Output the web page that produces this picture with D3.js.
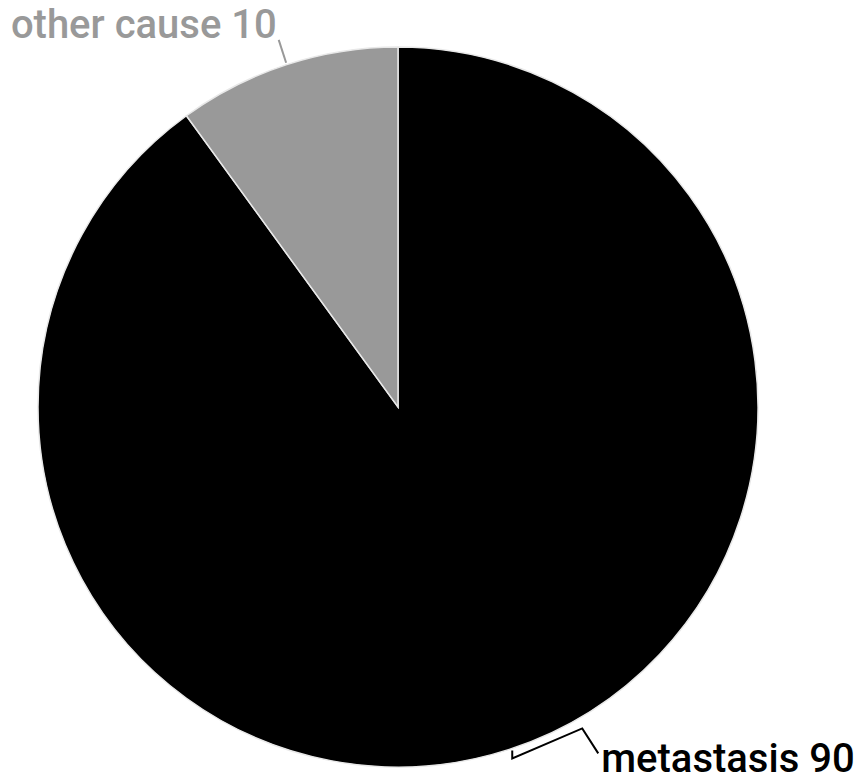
<!DOCTYPE html>
<html>
<head>
<meta charset="utf-8">
<script src="https://cdn.jsdelivr.net/npm/d3@7"></script>
<style>
  html, body { margin: 0; padding: 0; background: #fff; }
  svg { display: block; }
  text { font-family: Roboto, "Noto Sans", sans-serif; font-weight: 500; }
</style>
</head>
<body>
<script>
// Causes and counts
const categories = ["metastasis", "other cause"];
const values = [90, 10];
const colors = ["#000000", "#999999"];

const width = 857, height = 777;
const cx = 398, cy = 407, radius = 360;
const fontSize = 40;

const svg = d3.select("body").append("svg")
  .attr("width", width).attr("height", height);

const g = svg.append("g").attr("transform", `translate(${cx},${cy})`);

const data = categories.map((c, i) => ({ name: c, value: values[i], color: colors[i] }));

const pie = d3.pie().value(d => d.value).sort(null);
const arcs = pie(data);
const arc = d3.arc().innerRadius(0).outerRadius(radius);

g.selectAll("path.slice")
  .data(arcs)
  .join("path")
  .attr("class", "slice")
  .attr("d", arc)
  .attr("fill", d => d.data.color)
  .attr("stroke", "#e8e8e8")
  .attr("stroke-width", 1.5);

const mid = d => (d.startAngle + d.endAngle) / 2;
const pt = (a, r) => [r * Math.sin(a), -r * Math.cos(a)];

// metastasis label: bracket-shaped leader below the pie
{
  const d = arcs[0];
  const [x0, y0] = pt(mid(d), radius);
  const pts = [
    [x0 + 3, y0 + 1],
    [x0 + 3, y0 + 9],
    [x0 + 73, y0 - 21],
    [x0 + 89, y0 + 4]
  ];
  g.append("path")
    .attr("d", d3.line()(pts))
    .attr("fill", "none")
    .attr("stroke", "#000")
    .attr("stroke-width", 2);
  g.append("text")
    .attr("x", x0 + 92)
    .attr("y", y0 + 23)
    .attr("font-size", fontSize)
    .attr("fill", "#000")
    .text(`${d.data.name} ${d.data.value}`);
}

// other cause label: short radial leader above the pie
{
  const d = arcs[1];
  const a = mid(d);
  const p0 = pt(a, radius + 2);
  const p1 = pt(a, radius + 26);
  g.append("line")
    .attr("x1", p0[0]).attr("y1", p0[1])
    .attr("x2", p1[0]).attr("y2", p1[1])
    .attr("stroke", "#999999")
    .attr("stroke-width", 2);
  g.append("text")
    .attr("x", p1[0] - 2)
    .attr("y", p1[1] - 2)
    .attr("text-anchor", "end")
    .attr("font-size", fontSize)
    .attr("fill", "#999999")
    .text(`${d.data.name} ${d.data.value}`);
}
</script>
</body>
</html>
